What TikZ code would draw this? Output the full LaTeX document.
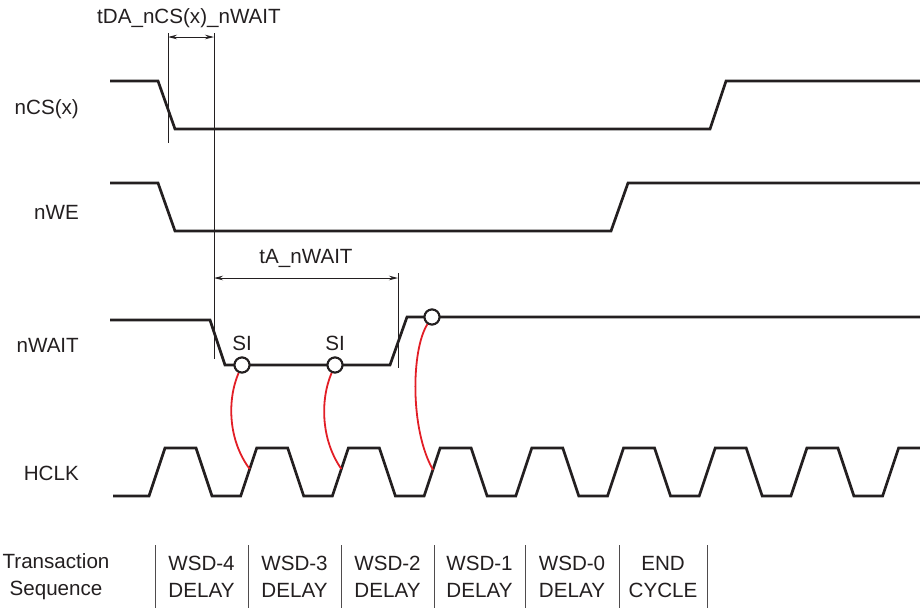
\documentclass[tikz,border=0pt]{standalone}
\usepackage{fontspec}
\setmainfont{Liberation Sans}
\usetikzlibrary{arrows.meta}
\definecolor{ink}{RGB}{35,31,32}
\definecolor{sigred}{RGB}{226,30,38}
\tikzset{
  sig/.style={draw=ink, line width=2.7pt, line join=miter},
  dim/.style={draw=ink, line width=0.9pt},
  dimarrow/.style={draw=ink, line width=0.9pt, {Stealth[length=9pt,width=4.5pt]}-{Stealth[length=9pt,width=4.5pt]}},
  lbl/.style={text=ink, font=\fontsize{20.6}{24}\selectfont, inner sep=0pt},
  siglbl/.style={lbl, anchor=east},
  cell/.style={text=ink, font=\fontsize{20.6}{27}\selectfont, align=center, inner sep=0pt},
  sicircle/.style={circle, draw=ink, fill=white, line width=2pt, minimum size=15pt, inner sep=0pt},
  redlink/.style={draw=sigred, line width=1.8pt},
  sep/.style={draw=ink!80, line width=1pt}
}
\begin{document}
\begin{tikzpicture}[x=1pt,y=-1pt]
\useasboundingbox (0,0) rectangle (920,608);

% signal labels
\node[siglbl] (lcs) at (79,109) {nCS(x)};
\node[siglbl] (lwe) at (79,212) {nWE};
\node[siglbl] (lwait) at (79,345) {nWAIT};
\node[siglbl] (lclk) at (79,473) {HCLK};

% nCS(x)
\draw[sig] (110,81) -- (158,81) -- (175,129) -- (710,129) -- (726,81) -- (920,81);
% nWE
\draw[sig] (110,183) -- (158,183) -- (175,231) -- (611,231) -- (628,183) -- (920,183);
% nWAIT
\draw[sig] (110,320) -- (210,320) -- (225,365) -- (390,365) -- (407,317) -- (920,317);
% HCLK
\draw[sig] (113,496) -- (149,496)
  -- (165,448) -- (196,448) -- (212,496) -- (240.7,496)
  -- (256.7,448) -- (287.7,448) -- (303.7,496) -- (332.4,496)
  -- (348.4,448) -- (379.4,448) -- (395.4,496) -- (424.1,496)
  -- (440.1,448) -- (471.1,448) -- (487.1,496) -- (515.8,496)
  -- (531.8,448) -- (562.8,448) -- (578.8,496) -- (607.5,496)
  -- (623.5,448) -- (654.5,448) -- (670.5,496) -- (699.2,496)
  -- (715.2,448) -- (746.2,448) -- (762.2,496) -- (790.9,496)
  -- (806.9,448) -- (837.9,448) -- (853.9,496) -- (882.6,496)
  -- (898.6,448) -- (920,448);

% timing dimension tDA_nCS(x)_nWAIT
\coordinate (ta1) at (168,33);
\coordinate (ta2) at (168,143);
\coordinate (tb1) at (214,33);
\coordinate (tb2) at (214,359);
\draw[dim] (ta1) -- (ta2);
\draw[dim] (tb1) -- (tb2);
\coordinate (aa) at (168,37);
\coordinate (ab) at (214,37);
\draw[dimarrow] (aa) -- (ab);
\node[lbl] (tda) at (189,18) {tDA\_nCS(x)\_nWAIT};

% timing dimension tA_nWAIT
\coordinate (tc1) at (398,273);
\coordinate (tc2) at (398,368);
\draw[dim] (tc1) -- (tc2);
\coordinate (ba) at (214,278);
\coordinate (bb) at (398,278);
\draw[dimarrow] (ba) -- (bb);
\node[lbl] (tan) at (306,258) {tA\_nWAIT};

% SI labels
\node[lbl] (si1l) at (242,343) {SI};
\node[lbl] (si2l) at (335,343) {SI};

% red links from sample circles to clock edges
\coordinate (e1) at (249.7,469);
\coordinate (e2) at (341.4,469);
\coordinate (e3) at (433.1,470);
\node[sicircle] (si1) at (242,365) {};
\node[sicircle] (si2) at (335,365) {};
\node[sicircle] (si3) at (432,317) {};
\draw[redlink] (si1) .. controls (227,400) and (228,440) .. (e1);
\draw[redlink] (si2) .. controls (320,400) and (321,440) .. (e2);
\draw[redlink] (si3) .. controls (411,350) and (410,430) .. (e3);
% redraw circles on top
\node[sicircle] at (242,365) {};
\node[sicircle] at (335,365) {};
\node[sicircle] at (432,317) {};

% transaction sequence table
\foreach \x/\n in {155/s0,248/s1,341/s2,434/s3,525/s4,619/s5,707/s6}{
  \coordinate (\n t) at (\x,545);
  \coordinate (\n b) at (\x,608);
  \draw[sep] (\n t) -- (\n b);
}
\node[cell] (tseq) at (56,577) {Transaction\\Sequence};
\node[cell] (c4) at (201.5,577) {WSD-4\\DELAY};
\node[cell] (c3) at (294.5,577) {WSD-3\\DELAY};
\node[cell] (c2) at (387.5,577) {WSD-2\\DELAY};
\node[cell] (c1) at (479.5,577) {WSD-1\\DELAY};
\node[cell] (c0) at (572,577) {WSD-0\\DELAY};
\node[cell] (ce) at (663,577) {END\\CYCLE};
\end{tikzpicture}
\end{document}
